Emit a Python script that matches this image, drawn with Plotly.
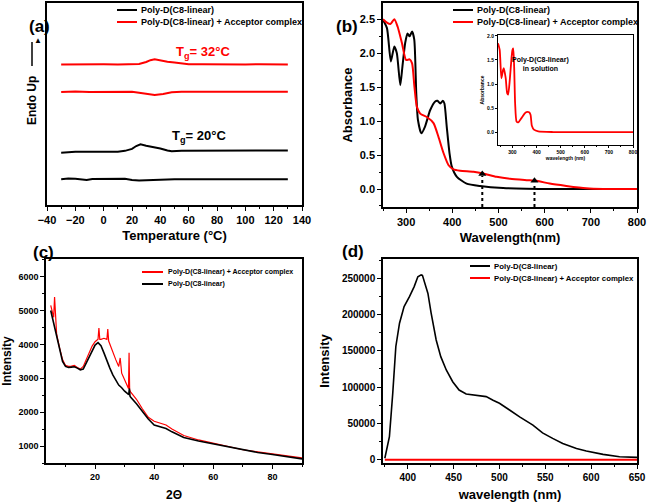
import plotly.graph_objects as go

# ---------------- (a) DSC ----------------
dsc_T_red_up = [-30, -20, -10, 0, 10, 20, 25, 30, 33, 36, 40, 45, 50, 55, 60, 70, 80, 90, 100, 110, 120, 130]
dsc_red_up = [6.96, 6.97, 6.96, 6.97, 6.96, 6.97, 6.98, 7.08, 7.17, 7.21, 7.14, 7.09, 7.05, 7.0, 6.97, 6.97, 6.96, 6.97, 6.96, 6.97, 6.96, 6.96]
dsc_T_red_lo = [-30, -20, -10, 0, 10, 15, 20, 25, 30, 36, 42, 48, 55, 70, 90, 100, 110, 130]
dsc_red_lo = [5.60, 5.62, 5.60, 5.61, 5.62, 5.64, 5.61, 5.56, 5.50, 5.45, 5.50, 5.58, 5.61, 5.61, 5.62, 5.63, 5.61, 5.61]
dsc_T_blk_up = [-30, -20, -10, 0, 10, 15, 20, 23, 26, 30, 35, 40, 45, 48, 55, 70, 90, 110, 130]
dsc_blk_up = [2.59, 2.63, 2.63, 2.63, 2.64, 2.68, 2.78, 2.92, 3.0, 2.93, 2.88, 2.80, 2.70, 2.66, 2.68, 2.68, 2.69, 2.68, 2.70]
dsc_T_blk_lo = [-30, -25, -20, -15, -12, -8, 0, 10, 15, 20, 25, 30, 40, 50, 70, 90, 110, 130]
dsc_blk_lo = [1.28, 1.31, 1.30, 1.28, 1.24, 1.29, 1.30, 1.33, 1.30, 1.24, 1.21, 1.23, 1.26, 1.28, 1.28, 1.29, 1.28, 1.28]
dsc_tg_labels = ["T<sub>g</sub>= 32°C", "T<sub>g</sub>= 20°C"]
dsc_tg_pos = [(70, 7.55), (67, 3.4)]

# ---------------- (b) UV-Vis film ----------------
uv_wl_blk = [250, 258.6, 267, 274.5, 280, 287.4, 292, 298, 303, 307.6, 313, 317.7, 322, 325.6, 333, 341, 352, 363, 368, 374, 379.6, 383, 388, 394, 399, 410, 431, 460, 510, 620, 700, 800]
uv_abs_blk = [2.49, 2.37, 1.88, 2.10, 2.0, 1.53, 1.80, 2.15, 2.29, 2.25, 2.32, 2.2, 1.41, 1.02, 0.82, 0.92, 1.16, 1.29, 1.30, 1.26, 1.30, 1.26, 0.92, 0.53, 0.33, 0.18, 0.08, 0.045, 0.015, 0.0, 0.0, 0.0]
uv_wl_red = [250, 258.6, 266, 274.5, 281.7, 291, 300, 307.6, 313, 318, 323.4, 330.6, 345, 359.4, 370, 381, 392, 402.6, 417, 446, 467, 496, 525, 561, 582.6, 611, 647, 690, 727, 800]
uv_abs_red = [2.50, 2.45, 2.43, 2.50, 2.39, 2.15, 1.90, 1.91, 1.85, 1.51, 1.21, 1.11, 1.06, 0.97, 0.77, 0.53, 0.35, 0.29, 0.27, 0.255, 0.23, 0.18, 0.15, 0.13, 0.12, 0.08, 0.045, 0.01, 0.0, 0.0]
uv_arrow_wl = [465, 578]
uv_arrow_tip = [0.22, 0.12]

# inset: solution spectrum
sol_wl = [240, 247, 254, 261, 264, 272, 278, 282, 289, 296, 300, 303, 307, 311, 317, 324, 337.5, 351, 358, 369, 375, 380.5, 389, 407, 469, 600, 800]
sol_abs = [1.85, 1.71, 1.12, 1.29, 1.33, 1.12, 0.81, 0.78, 1.09, 1.54, 1.71, 1.74, 1.36, 0.60, 0.22, 0.20, 0.29, 0.39, 0.415, 0.41, 0.36, 0.13, 0.05, 0.014, 0.0, 0.0, 0.0]

# ---------------- (c) XRD ----------------
xrd_theta_blk = [5, 6, 7, 8, 9, 10, 11, 12, 13, 14, 15, 16, 17, 18, 19, 20, 21, 22, 23, 24, 25, 26, 27, 28, 29, 30, 31.4, 31.6, 31.8, 32, 34, 36, 38, 40, 42, 44, 46, 48, 50, 55, 60, 65, 70, 75, 80, 85, 90]
xrd_int_blk = [5000, 4600, 4200, 3800, 3500, 3350, 3320, 3330, 3340, 3300, 3250, 3270, 3450, 3650, 3850, 3980, 4050, 3960, 3750, 3500, 3300, 3100, 2950, 2800, 2720, 2620, 2520, 2700, 2480, 2450, 2250, 2020, 1800, 1620, 1580, 1520, 1420, 1330, 1250, 1150, 1060, 980, 880, 810, 750, 690, 620]
xrd_theta_red = [5, 6, 6.3, 6.6, 7, 8, 9, 10, 11, 12, 13, 14, 15, 16, 17, 18, 19, 20, 21, 21.3, 21.6, 22, 23, 24, 24.3, 24.6, 25, 26, 27, 28, 28.5, 29, 30, 31.3, 31.5, 31.7, 32, 34, 36, 38, 40, 42, 44, 46, 48, 50, 55, 60, 65, 70, 75, 80, 85, 90]
xrd_int_red = [5150, 4800, 5400, 4700, 4300, 3900, 3550, 3380, 3350, 3360, 3380, 3320, 3270, 3350, 3550, 3750, 3950, 4080, 4150, 4480, 4150, 4150, 4180, 4150, 4450, 4100, 4000, 3750, 3550, 3350, 3600, 3150, 2950, 2700, 3750, 2650, 2600, 2380, 2100, 1850, 1730, 1680, 1620, 1500, 1400, 1310, 1180, 1080, 980, 890, 830, 770, 700, 650]

# ---------------- (d) PL ----------------
pl_wl_blk = [375, 376, 380, 383.6, 387, 391, 396, 402, 407, 411, 414.6, 416, 419, 422, 425.5, 431, 436, 442, 449, 456, 463.7, 474.6, 485.5, 493, 500, 511, 522, 536.5, 547, 558, 569, 584, 594.7, 613, 631, 650]
pl_int_blk = [2000, 8700, 31700, 91000, 156000, 188000, 211000, 225000, 238500, 252000, 254600, 254000, 243000, 229000, 202000, 165000, 142000, 123600, 107500, 96000, 90500, 89000, 86900, 82000, 77700, 68500, 59000, 47800, 37000, 29400, 22500, 15600, 12000, 7400, 4100, 3200]
pl_wl_red = [375, 450, 550, 650]
pl_int_red = [0, 0, 0, 0]

name_blk = "Poly-D(C8-linear)"
name_red = "Poly-D(C8-linear) + Acceptor complex"
BLK = "#000000"
RED = "#ff0000"
FONT = "Liberation Sans, Arial, sans-serif"

fig = go.Figure()

def line_tr(x, y, color, width, xa, ya, name, spline=False, dash=None):
    ln = dict(color=color, width=width)
    if spline:
        ln.update(shape="spline", smoothing=0.6)
    if dash:
        ln["dash"] = dash
    return go.Scatter(x=x, y=y, mode="lines", line=ln, name=name, showlegend=False, xaxis=xa, yaxis=ya)

# (a)
fig.add_trace(line_tr(dsc_T_blk_up, dsc_blk_up, BLK, 2, "x", "y", name_blk))
fig.add_trace(line_tr(dsc_T_red_up, dsc_red_up, RED, 2, "x", "y", name_red))
fig.add_trace(line_tr(dsc_T_red_lo, dsc_red_lo, RED, 2, "x", "y", name_red))
fig.add_trace(line_tr(dsc_T_blk_lo, dsc_blk_lo, BLK, 2, "x", "y", name_blk))

# (b)
fig.add_trace(line_tr(uv_wl_blk, uv_abs_blk, BLK, 2, "x2", "y2", name_blk, spline=True))
fig.add_trace(line_tr(uv_wl_red, uv_abs_red, RED, 2, "x2", "y2", name_red, spline=True))
for wl, tip in zip(uv_arrow_wl, uv_arrow_tip):
    fig.add_trace(line_tr([wl, wl], [-0.265, tip - 0.03], BLK, 2, "x2", "y2", "", dash="dot"))
fig.add_trace(go.Scatter(x=uv_arrow_wl, y=uv_arrow_tip, mode="markers", showlegend=False,
                         marker=dict(symbol="triangle-up", size=7, color=BLK), xaxis="x2", yaxis="y2"))
# inset
fig.add_trace(line_tr(sol_wl, sol_abs, RED, 1.8, "x3", "y3", name_blk, spline=True))

# (c)
fig.add_trace(line_tr(xrd_theta_red, xrd_int_red, RED, 1.2, "x4", "y4", name_red))
fig.add_trace(line_tr(xrd_theta_blk, xrd_int_blk, BLK, 1.6, "x4", "y4", name_blk))

# (d)
fig.add_trace(line_tr(pl_wl_blk, pl_int_blk, BLK, 1.6, "x5", "y5", name_blk))
fig.add_trace(line_tr(pl_wl_red, pl_int_red, RED, 2, "x5", "y5", name_red))

W, H = 648, 502
def px_x(p):
    return p / W
def px_y(p):
    return 1 - p / H

def ax(domain, rng, tickfs=11, **kw):
    d = dict(domain=domain, range=rng, showline=True, linecolor="black", linewidth=1.5, mirror=True,
             ticks="outside", ticklen=4, tickwidth=1.2, tickcolor="black", showgrid=False, zeroline=False,
             automargin=False,
             tickfont=dict(family=FONT, size=tickfs, color="black", weight="bold"))
    d.update(kw)
    return d

title_font = lambda s: dict(family=FONT, size=s, color="black", weight="bold")
minor = lambda: dict(ticks="outside", ticklen=2, tickcolor="black")

layout = dict(
    width=W, height=H, margin=dict(l=0, r=0, t=0, b=0, autoexpand=False),
    paper_bgcolor="white", plot_bgcolor="white", showlegend=False,
    font=dict(family=FONT, color="black"),
    # (a)
    xaxis=ax([px_x(47), px_x(302)], [-40, 140], 11, anchor="y", dtick=20, minor=dict(minor(), dtick=10),
             title=dict(text="Temperature (°C)", font=title_font(13), standoff=6)),
    yaxis=ax([px_y(205), px_y(3)], [0, 10], 11, anchor="x", showticklabels=False, ticks=""),
    # (b)
    xaxis2=ax([px_x(383), px_x(637)], [250, 800], 11, anchor="y2", dtick=100, minor=dict(minor(), dtick=50),
              title=dict(text="Wavelength(nm)", font=title_font(13), standoff=6)),
    yaxis2=ax([px_y(207), px_y(3)], [-0.265, 2.74], 11, anchor="x2", dtick=0.5, tickformat=".1f", minor=dict(minor(), dtick=0.25),
              title=dict(text="Absorbance", font=title_font(13), standoff=4)),
    # inset
    xaxis3=ax([px_x(498), px_x(633)], [240, 800], 5, anchor="y3", dtick=100, tick0=300, ticklen=2, linewidth=1,
              minor=dict(ticks="outside", ticklen=1, dtick=50, tickcolor="black"),
              title=dict(text="wavelength (nm)", font=title_font(5), standoff=2)),
    yaxis3=ax([px_y(145), px_y(35)], [-0.27, 2.02], 5, anchor="x3", dtick=0.5, tickformat=".1f", ticklen=2, linewidth=1,
              title=dict(text="Absorbance", font=title_font(5), standoff=2)),
    # (c)
    xaxis4=ax([px_x(46), px_x(302)], [3.4, 90], 9, anchor="y4", dtick=20, minor=dict(minor(), dtick=10),
              title=dict(text="2Θ", font=title_font(12), standoff=10)),
    yaxis4=ax([px_y(463), px_y(259)], [500, 6520], 9, anchor="x4", dtick=1000, tick0=0, tickformat="d",
              minor=dict(minor(), dtick=500),
              title=dict(text="Intensity", font=title_font(12), standoff=6)),
    # (d)
    xaxis5=ax([px_x(383), px_x(637)], [373, 650], 10, anchor="y5", dtick=50, tick0=400, minor=dict(minor(), dtick=25),
              title=dict(text="wavelength (nm)", font=title_font(13), standoff=8)),
    yaxis5=ax([px_y(463), px_y(259)], [-4500, 276500], 10, anchor="x5", dtick=50000, tick0=0, tickformat="d",
              minor=dict(minor(), dtick=25000),
              title=dict(text="Intensity", font=title_font(13), standoff=9)),
)
fig.update_layout(**layout)

# legends (line sample + label), in page pixels
legends = [
    # x0, x1, text x, font size, [(color, label, row y)]
    (117, 137, 139, 9, [(BLK, name_blk, 10), (RED, name_red, 22)]),
    (453, 473, 475, 9, [(BLK, name_blk, 10), (RED, name_red, 22)]),
    (142, 163, 166, 7, [(RED, name_red, 272), (BLK, name_blk, 284)]),
    (470, 490, 492, 7.8, [(BLK, name_blk, 266), (RED, name_red, 278)]),
]
for x0, x1, tx, fs, rows in legends:
    for col, lab, ry in rows:
        fig.add_shape(type="line", xref="paper", yref="paper", x0=px_x(x0), x1=px_x(x1),
                      y0=px_y(ry), y1=px_y(ry), line=dict(color=col, width=2))
        fig.add_annotation(x=px_x(tx), y=px_y(ry), xref="paper", yref="paper", text=lab, showarrow=False,
                           xanchor="left", yanchor="middle",
                           font=dict(family=FONT, size=fs, color="black", weight="bold"))

# Tg labels
for (tx, ty), txt, col in zip(dsc_tg_pos, dsc_tg_labels, [RED, BLK]):
    fig.add_annotation(x=tx, y=ty, xref="x", yref="y", text=txt, showarrow=False,
                       font=dict(family=FONT, size=13, color=col, weight="bold"))

# Endo Up label + arrow
fig.add_annotation(x=px_x(32), y=px_y(101), xref="paper", yref="paper", text="Endo Up", textangle=-90,
                   showarrow=False, xanchor="center", yanchor="middle",
                   font=dict(family=FONT, size=12, color="black", weight="bold"))
fig.add_shape(type="line", xref="paper", yref="paper", x0=px_x(32), x1=px_x(32), y0=px_y(66), y1=px_y(42),
              line=dict(color="black", width=1.5))
fig.add_annotation(x=px_x(32), y=px_y(40), xref="paper", yref="paper", text="▲", showarrow=False,
                   yanchor="middle", font=dict(family=FONT, size=8, color="black"))

# inset text
fig.add_annotation(x=px_x(571), y=px_y(54), xref="paper", yref="paper",
                   text="Poly-D(C8-linear)<br>in solution", showarrow=False,
                   font=dict(family=FONT, size=7, color="black", weight="bold"))

# panel labels
for lab, xp, yp in [("(a)", 27, 15), ("(b)", 347, 15), ("(c)", 31, 252), ("(d)", 353, 251)]:
    fig.add_annotation(x=px_x(xp), y=px_y(yp), xref="paper", yref="paper", text=lab, showarrow=False,
                       font=dict(family=FONT, size=17, color="black", weight="bold"))

fig.write_html("out.html", post_script="document.body.style.margin='0';",
               config={"displayModeBar": False})
